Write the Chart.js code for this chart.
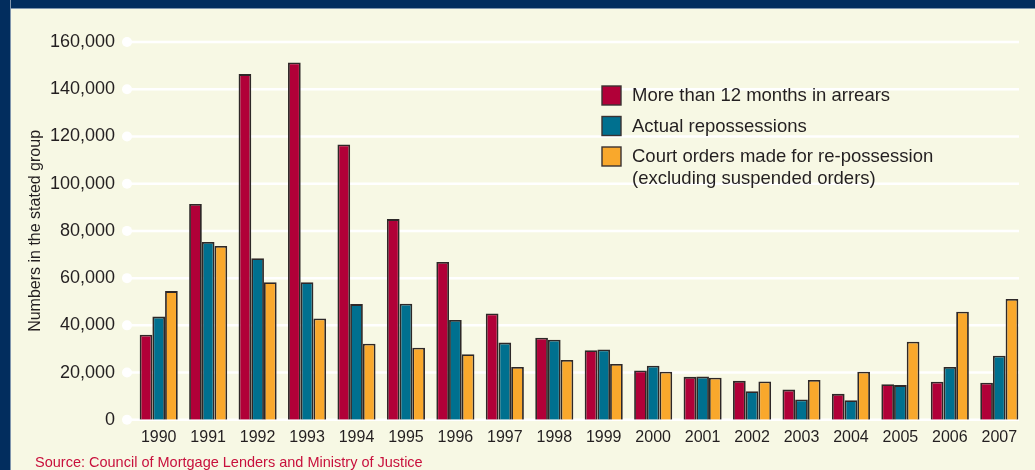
<!DOCTYPE html>
<html>
<head>
<meta charset="utf-8">
<script src="https://cdn.jsdelivr.net/npm/chart.js@4/dist/chart.umd.min.js"></script>
<style>
  html, body { margin: 0; padding: 0; }
  body { width: 1035px; height: 470px; background: #f7f8e4; position: relative; overflow: hidden; font-family: "Liberation Sans", Arial, sans-serif; }
  #topbar { position: absolute; left: 0; top: 0; width: 1035px; height: 8px; background: #022d5e; border-bottom: 1px solid #7f95ad; }
  #leftbar { position: absolute; left: 0; top: 0; width: 10px; height: 470px; background: #022d5e; border-right: 1px solid #7f95ad; }
  #wrap { position: absolute; left: 0; top: 0; width: 1035px; height: 470px; }
  #source { position: absolute; left: 35px; top: 454px; font-size: 14.5px; color: #c8103c; white-space: nowrap; }
</style>
</head>
<body>
<div id="topbar"></div>
<div id="leftbar"></div>
<div id="wrap"><canvas id="myChart" width="1035" height="470"></canvas></div>
<div id="source">Source: Council of Mortgage Lenders and Ministry of Justice</div>
<script>
const years = ["1990","1991","1992","1993","1994","1995","1996","1997","1998","1999","2000","2001","2002","2003","2004","2005","2006","2007"];

const arrears = [36000, 91400, 146400, 151300, 116600, 85000, 66800, 45000, 34800, 29500, 20900, 18200, 16500, 12800, 11000, 15100, 16100, 15700];
const repossessions = [43700, 75300, 68400, 58300, 49000, 49200, 42300, 32700, 33900, 29800, 22900, 18300, 12100, 8600, 8300, 14700, 22400, 27100];
const courtOrders = [54500, 73600, 58300, 42900, 32200, 30500, 27800, 22400, 25300, 23600, 20400, 17800, 16200, 16900, 20400, 33100, 45800, 51200];

const seriesNames = [
  ["More than 12 months in arrears"],
  ["Actual repossessions"],
  ["Court orders made for re-possession", "(excluding suspended orders)"]
];
const barColors = ["#b10038", "#00708f", "#f9a82c"];

// white grid lines with a dot at the left end
const gridPlugin = {
  id: "gridDots",
  beforeDatasetsDraw(chart) {
    const ctx = chart.ctx;
    const y = chart.scales.y;
    ctx.save();
    ctx.strokeStyle = "#ffffff";
    ctx.fillStyle = "#ffffff";
    ctx.lineWidth = 2.5;
    y.ticks.forEach(t => {
      const py = y.getPixelForValue(t.value);
      ctx.beginPath();
      ctx.moveTo(127, py);
      ctx.lineTo(1019, py);
      ctx.stroke();
      ctx.beginPath();
      ctx.arc(127, py, 5, 0, Math.PI * 2);
      ctx.fill();
    });
    ctx.restore();
  }
};

// legend drawn by hand so the third label can wrap
const legendPlugin = {
  id: "boxLegend",
  afterDraw(chart) {
    const ctx = chart.ctx;
    ctx.save();
    ctx.font = "18.5px 'Liberation Sans', Arial, sans-serif";
    ctx.textBaseline = "middle";
    let top = 86;
    chart.data.datasets.forEach((ds, i) => {
      ctx.fillStyle = ds.backgroundColor;
      ctx.fillRect(602, top, 19, 19);
      ctx.strokeStyle = "#3a3232";
      ctx.lineWidth = 1.4;
      ctx.strokeRect(602, top, 19, 19);
      ctx.fillStyle = "#231f20";
      seriesNames[i].forEach((line, j) => {
        ctx.fillText(line, 632, top + 10 + j * 22);
      });
      top += 30.5;
    });
    ctx.restore();
  }
};

const datasets = [arrears, repossessions, courtOrders].map((vals, i) => ({
  label: seriesNames[i].join(" "),
  data: vals,
  backgroundColor: barColors[i],
  borderColor: "#2e2828",
  borderWidth: 1.8,
  barPercentage: 1,
  categoryPercentage: 0.77
}));

new Chart("myChart", {
  type: "bar",
  data: { labels: years, datasets: datasets },
  options: {
    responsive: false,
    animation: false,
    events: [],
    layout: { padding: { top: 42, right: 11, bottom: 15, left: 0 } },
    plugins: { legend: { display: false }, tooltip: { enabled: false } },
    scales: {
      x: {
        grid: { display: false, drawTicks: false },
        border: { display: false },
        ticks: { color: "#231f20", font: { size: 16, family: "'Liberation Sans', Arial, sans-serif" }, padding: 8, maxRotation: 0, autoSkip: false }
      },
      y: {
        min: 0,
        max: 160000,
        grid: { display: false, drawTicks: false },
        border: { display: false },
        ticks: { stepSize: 20000, color: "#231f20", font: { size: 18, family: "'Liberation Sans', Arial, sans-serif" }, padding: 19 },
        title: {
          display: true,
          text: "Numbers in the stated group",
          color: "#231f20",
          font: { size: 16, family: "'Liberation Sans', Arial, sans-serif" },
          padding: { top: 26, bottom: 0 }
        },
        afterFit(scale) { scale.width = 134; }
      }
    }
  },
  plugins: [gridPlugin, legendPlugin]
});
</script>
</body>
</html>
